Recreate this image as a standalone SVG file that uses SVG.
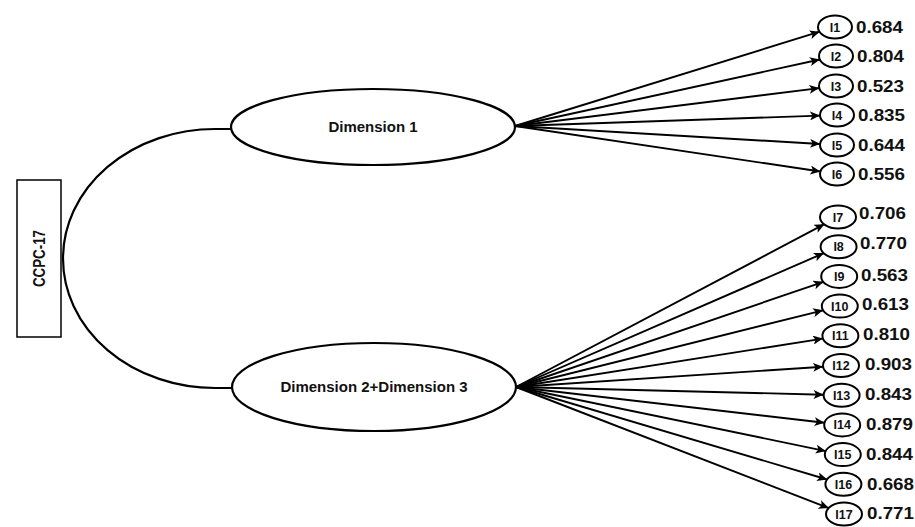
<svg xmlns="http://www.w3.org/2000/svg" width="915" height="527" viewBox="0 0 915 527">
<defs>
<marker id="ah" markerUnits="userSpaceOnUse" markerWidth="11" markerHeight="9" refX="10" refY="4.5" orient="auto">
<path d="M0,0 L10,4.5 L0,9 L2.5,4.5 z" fill="#000"/>
</marker>
<style>
.ln{stroke:#000;stroke-width:1.9;fill:none;marker-end:url(#ah)}
.el{fill:#fff;stroke:#000;stroke-width:2.2}
.it{fill:#fff;stroke:#000;stroke-width:2}
.t{font-family:"Liberation Sans",Arial,sans-serif;font-weight:bold;fill:#111}
.lb{font-size:12.5px;text-anchor:middle}
.vl{font-size:17px}
.dm{font-size:15px;text-anchor:middle}
</style>
</defs>
<rect width="915" height="527" fill="#fff"/>
<g id="connectors">
<path d="M232,129 L215,129 A152,129.5 0 0 0 215,388 L232,388" fill="none" stroke="#000" stroke-width="2.2"/>
<line class="ln" x1="515" y1="126" x2="819.7" y2="31.7"/>
<line class="ln" x1="515" y1="126" x2="819.9" y2="59.5"/>
<line class="ln" x1="515" y1="126" x2="819.3" y2="88.1"/>
<line class="ln" x1="515" y1="126" x2="820.0" y2="115.6"/>
<line class="ln" x1="515" y1="126" x2="820.1" y2="144.0"/>
<line class="ln" x1="515" y1="126" x2="820.4" y2="171.5"/>
<line class="ln" x1="516" y1="387" x2="824.4" y2="224.2"/>
<line class="ln" x1="516" y1="387" x2="823.9" y2="253.1"/>
<line class="ln" x1="516" y1="387" x2="823.5" y2="281.8"/>
<line class="ln" x1="516" y1="387" x2="823.1" y2="310.3"/>
<line class="ln" x1="516" y1="387" x2="823.0" y2="338.6"/>
<line class="ln" x1="516" y1="387" x2="823.1" y2="366.7"/>
<line class="ln" x1="516" y1="387" x2="823.6" y2="394.7"/>
<line class="ln" x1="516" y1="387" x2="824.5" y2="422.8"/>
<line class="ln" x1="516" y1="387" x2="825.8" y2="451.1"/>
<line class="ln" x1="516" y1="387" x2="827.2" y2="479.5"/>
<line class="ln" x1="516" y1="387" x2="828.8" y2="508.1"/>
</g>
<g id="ccpc17">
<rect x="17" y="180" width="44" height="157" fill="#fff" stroke="#000" stroke-width="1.5"/>
<text class="t" transform="translate(44.5,258.5) rotate(-90)" text-anchor="middle" font-size="17" textLength="57" lengthAdjust="spacingAndGlyphs">CCPC-17</text>
</g>
<g id="dim1">
<ellipse class="el" cx="373" cy="127" rx="142" ry="38"/>
<text class="t dm" x="373" y="132">Dimension 1</text>
</g>
<g id="dim23">
<ellipse class="el" cx="374" cy="387" rx="142" ry="44"/>
<text class="t dm" x="374" y="392">Dimension 2+Dimension 3</text>
</g>
<g id="I1"><ellipse class="it" cx="835" cy="27" rx="17" ry="11.5"/><text class="t lb" x="835" y="31.5">I1</text><text class="t vl" x="856" y="33" textLength="47" lengthAdjust="spacingAndGlyphs">0.684</text></g>
<g id="I2"><ellipse class="it" cx="836" cy="56" rx="17" ry="11.5"/><text class="t lb" x="836" y="60.5">I2</text><text class="t vl" x="857" y="62" textLength="47" lengthAdjust="spacingAndGlyphs">0.804</text></g>
<g id="I3"><ellipse class="it" cx="836" cy="86" rx="17" ry="11.5"/><text class="t lb" x="836" y="90.5">I3</text><text class="t vl" x="857" y="92" textLength="47" lengthAdjust="spacingAndGlyphs">0.523</text></g>
<g id="I4"><ellipse class="it" cx="837" cy="115" rx="17" ry="11.5"/><text class="t lb" x="837" y="119.5">I4</text><text class="t vl" x="858" y="121" textLength="47" lengthAdjust="spacingAndGlyphs">0.835</text></g>
<g id="I5"><ellipse class="it" cx="837" cy="145" rx="17" ry="11.5"/><text class="t lb" x="837" y="149.5">I5</text><text class="t vl" x="858" y="151" textLength="47" lengthAdjust="spacingAndGlyphs">0.644</text></g>
<g id="I6"><ellipse class="it" cx="837" cy="174" rx="17" ry="11.5"/><text class="t lb" x="837" y="178.5">I6</text><text class="t vl" x="858" y="180" textLength="47" lengthAdjust="spacingAndGlyphs">0.556</text></g>
<g id="I7"><ellipse class="it" cx="838" cy="217" rx="18" ry="11.5"/><text class="t lb" x="838" y="221.5">I7</text><text class="t vl" x="859" y="219" textLength="47" lengthAdjust="spacingAndGlyphs">0.706</text></g>
<g id="I8"><ellipse class="it" cx="838.6" cy="246.7" rx="18" ry="11.5"/><text class="t lb" x="838.6" y="251.2">I8</text><text class="t vl" x="860" y="249" textLength="47" lengthAdjust="spacingAndGlyphs">0.770</text></g>
<g id="I9"><ellipse class="it" cx="839.2" cy="276.4" rx="18" ry="11.5"/><text class="t lb" x="839.2" y="280.9">I9</text><text class="t vl" x="861" y="281" textLength="47" lengthAdjust="spacingAndGlyphs">0.563</text></g>
<g id="I10"><ellipse class="it" cx="839.8" cy="306.1" rx="18" ry="11.5"/><text class="t lb" x="839.8" y="310.6">I10</text><text class="t vl" x="862" y="310" textLength="47" lengthAdjust="spacingAndGlyphs">0.613</text></g>
<g id="I11"><ellipse class="it" cx="840.4" cy="335.8" rx="18" ry="11.5"/><text class="t lb" x="840.4" y="340.3">I11</text><text class="t vl" x="863" y="340" textLength="47" lengthAdjust="spacingAndGlyphs">0.810</text></g>
<g id="I12"><ellipse class="it" cx="841" cy="365.5" rx="18" ry="11.5"/><text class="t lb" x="841" y="370">I12</text><text class="t vl" x="865" y="370" textLength="47" lengthAdjust="spacingAndGlyphs">0.903</text></g>
<g id="I13"><ellipse class="it" cx="841.6" cy="395.2" rx="18" ry="11.5"/><text class="t lb" x="841.6" y="399.7">I13</text><text class="t vl" x="865" y="400" textLength="47" lengthAdjust="spacingAndGlyphs">0.843</text></g>
<g id="I14"><ellipse class="it" cx="842.2" cy="424.9" rx="18" ry="11.5"/><text class="t lb" x="842.2" y="429.4">I14</text><text class="t vl" x="866" y="430" textLength="47" lengthAdjust="spacingAndGlyphs">0.879</text></g>
<g id="I15"><ellipse class="it" cx="842.8" cy="454.6" rx="18" ry="11.5"/><text class="t lb" x="842.8" y="459.1">I15</text><text class="t vl" x="866" y="460" textLength="47" lengthAdjust="spacingAndGlyphs">0.844</text></g>
<g id="I16"><ellipse class="it" cx="843.4" cy="484.3" rx="18" ry="11.5"/><text class="t lb" x="843.4" y="488.8">I16</text><text class="t vl" x="867" y="490" textLength="47" lengthAdjust="spacingAndGlyphs">0.668</text></g>
<g id="I17"><ellipse class="it" cx="844" cy="514" rx="18" ry="11.5"/><text class="t lb" x="844" y="518.5">I17</text><text class="t vl" x="867" y="519" textLength="47" lengthAdjust="spacingAndGlyphs">0.771</text></g>
</svg>
